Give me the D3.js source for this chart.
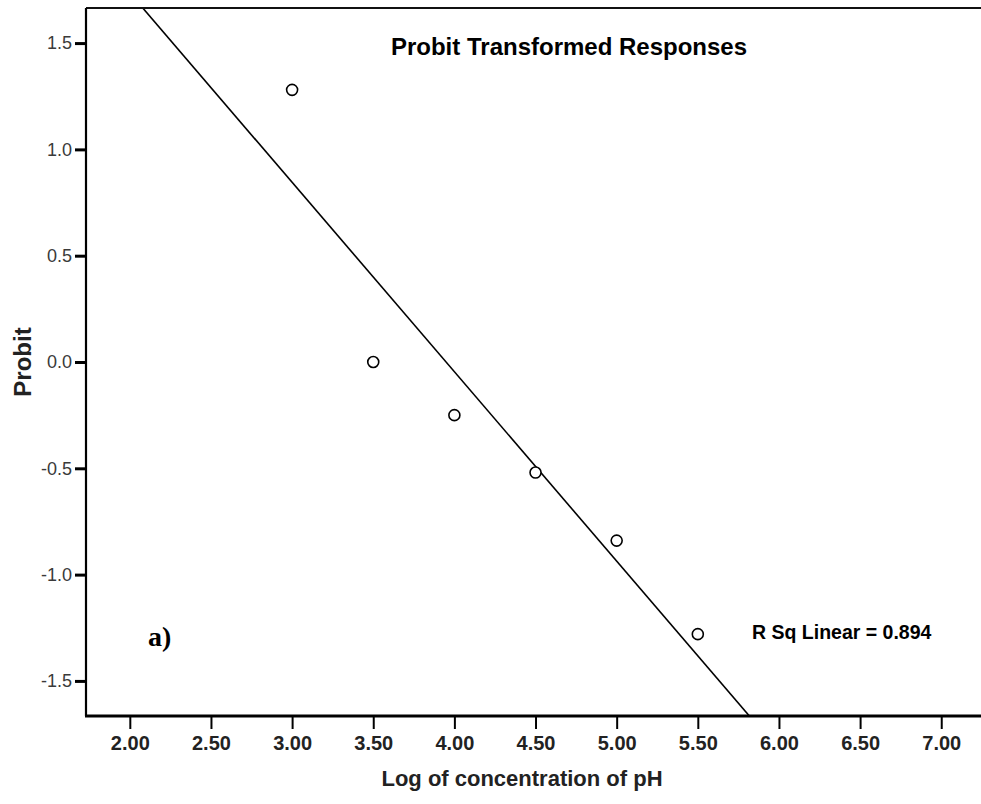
<!DOCTYPE html>
<html>
<head>
<meta charset="utf-8">
<script src="https://cdn.jsdelivr.net/npm/d3@7"></script>
<style>
  body { margin: 0; background: #fff; }
  svg { display: block; }
</style>
</head>
<body>
<div id="chart"></div>
<script>
// data
let logConc = [3.0, 3.5, 4.0, 4.5, 5.0, 5.5]
let probit = [1.28, 0.0, -0.25, -0.52, -0.84, -1.28]
let xTicks = [2.0, 2.5, 3.0, 3.5, 4.0, 4.5, 5.0, 5.5, 6.0, 6.5, 7.0]
let yTicks = [1.5, 1.0, 0.5, 0.0, -0.5, -1.0, -1.5]
let rSqLabel = "R Sq Linear = 0.894"

function drawChart(){

    let width = 981
    let height = 804
    let left = 86, right = 981, top = 8, bottom = 716

    let svg = d3.select("#chart")
        .append("svg")
            .attr("width", width)
            .attr("height", height)

    //scales
    let x = d3.scaleLinear().domain([1.73, 7.245]).range([left, right])
    let y = d3.scaleLinear().domain([-1.665, 1.665]).range([bottom, top])

    //least squares fit line
    let mx = d3.mean(logConc), my = d3.mean(probit)
    let sxy = d3.sum(logConc, (d, i) => (d - mx) * (probit[i] - my))
    let sxx = d3.sum(logConc, d => (d - mx) * (d - mx))
    let slope = sxy / sxx
    let intercept = my - slope * mx

    svg.append("clipPath").attr("id", "plot-clip")
        .append("rect")
            .attr("x", left).attr("y", top)
            .attr("width", right - left).attr("height", bottom - top)

    let x0 = x.domain()[0], x1 = x.domain()[1]
    svg.append("line")
        .attr("clip-path", "url(#plot-clip)")
        .attr("x1", x(x0)).attr("y1", y(intercept + slope * x0))
        .attr("x2", x(x1)).attr("y2", y(intercept + slope * x1))
        .attr("stroke", "#000")
        .attr("stroke-width", 1.6)

    //top frame line
    svg.append("line")
        .attr("x1", left).attr("x2", right)
        .attr("y1", top).attr("y2", top)
        .attr("stroke", "#111").attr("stroke-width", 2)

    //y axis
    let yAxis = svg.append("g")
        .attr("transform", `translate(${left},0)`)
        .call(d3.axisLeft(y).tickValues(yTicks).tickSize(11).tickPadding(3).tickFormat(d3.format(".1f")))
    yAxis.select(".domain").remove()
    yAxis.append("line")
        .attr("x1", 0).attr("x2", 0).attr("y1", top).attr("y2", bottom)
        .attr("stroke", "#000").attr("stroke-width", 2.2)
    yAxis.selectAll(".tick line").attr("stroke", "#000").attr("stroke-width", 3)
    yAxis.selectAll(".tick text")
        .attr("font-family", "Liberation Sans, Arial, sans-serif")
        .attr("font-size", 18)
        .attr("fill", "#3a3a3a")
        .text(d => d3.format(".1f")(d).replace("−", "-"))

    //x axis
    let xAxis = svg.append("g")
        .attr("transform", `translate(0,${bottom})`)
        .call(d3.axisBottom(x).tickValues(xTicks).tickSize(13).tickPadding(7).tickFormat(d3.format(".2f")))
    xAxis.select(".domain").remove()
    xAxis.append("line")
        .attr("x1", left - 1).attr("x2", right).attr("y1", 0).attr("y2", 0)
        .attr("stroke", "#000").attr("stroke-width", 3)
    xAxis.selectAll(".tick line").attr("stroke", "#000").attr("stroke-width", 2)
    xAxis.selectAll(".tick text")
        .attr("font-family", "Liberation Sans Narrow, Arial Narrow, Liberation Sans, sans-serif")
        .attr("font-weight", "bold")
        .attr("font-size", 20)
        .attr("fill", "#222")

    //points
    svg.selectAll("circle.pt")
        .data(logConc)
        .join("circle")
            .attr("class", "pt")
            .attr("cx", d => x(d))
            .attr("cy", (d, i) => y(probit[i]))
            .attr("r", 5.5)
            .attr("fill", "#fff")
            .attr("stroke", "#000")
            .attr("stroke-width", 1.6)

    // GRAPH TITLE
    svg.append("text")
        .attr("x", 569).attr("y", 55)
        .attr("text-anchor", "middle")
        .attr("font-family", "Liberation Sans, Arial, sans-serif")
        .attr("font-weight", "bold")
        .attr("font-size", 24)
        .text("Probit Transformed Responses")

    //axis titles
    svg.append("text")
        .attr("x", 522).attr("y", 786)
        .attr("text-anchor", "middle")
        .attr("font-family", "Liberation Sans, Arial, sans-serif")
        .attr("font-weight", "bold")
        .attr("font-size", 22)
        .attr("fill", "#222")
        .text("Log of concentration of pH")

    svg.append("text")
        .attr("transform", `translate(31,362) rotate(-90)`)
        .attr("text-anchor", "middle")
        .attr("font-family", "Liberation Sans, Arial, sans-serif")
        .attr("font-weight", "bold")
        .attr("font-size", 24)
        .attr("fill", "#222")
        .text("Probit")

    //fit annotation
    svg.append("text")
        .attr("x", 752).attr("y", 639)
        .attr("font-family", "Liberation Sans Narrow, Arial Narrow, Liberation Sans, sans-serif")
        .attr("font-weight", "bold")
        .attr("font-size", 19.5)
        .text(rSqLabel)

    //panel label
    svg.append("text")
        .attr("x", 148).attr("y", 646)
        .attr("font-family", "Liberation Serif, Times New Roman, serif")
        .attr("font-weight", "bold")
        .attr("font-size", 28)
        .text("a)")
}

drawChart()
</script>
</body>
</html>
